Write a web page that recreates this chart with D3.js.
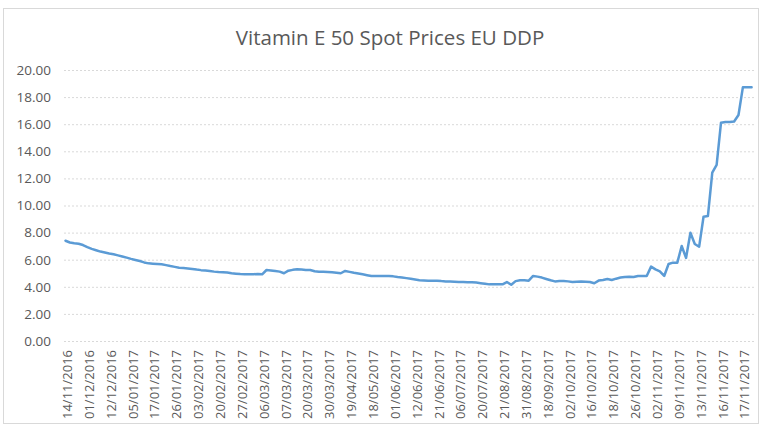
<!DOCTYPE html>
<html>
<head>
<meta charset="utf-8">
<script src="https://cdn.jsdelivr.net/npm/d3@7"></script>
<style>
  body { margin: 0; background: #fff; }
  svg { display: block; font-family: "Open Sans", "Noto Sans", sans-serif; }
</style>
</head>
<body>
<div id="chart"></div>
<script>
// Category labels shown on the x axis (one every 5 data points)
const tickLabels = [
	"14/11/2016", "01/12/2016", "12/12/2016", "05/01/2017", "17/01/2017", "26/01/2017",
	"03/02/2017", "20/02/2017", "27/02/2017", "06/03/2017", "07/03/2017", "20/03/2017",
	"30/03/2017", "19/04/2017", "18/05/2017", "01/06/2017", "12/06/2017", "21/06/2017",
	"06/07/2017", "20/07/2017", "21/08/2017", "31/08/2017", "18/09/2017", "02/10/2017",
	"16/10/2017", "18/10/2017", "26/10/2017", "02/11/2017", "09/11/2017", "13/11/2017",
	"16/11/2017", "17/11/2017"
];
const labelEvery = 5;

// Spot price per data point (EUR/kg)
const prices = [
	7.40, 7.27, 7.22, 7.18, 7.08, 6.93, 6.80, 6.70, 6.60, 6.53,
	6.46, 6.40, 6.32, 6.24, 6.15, 6.06, 5.98, 5.90, 5.80, 5.73,
	5.71, 5.69, 5.66, 5.60, 5.53, 5.47, 5.41, 5.38, 5.35, 5.32,
	5.27, 5.23, 5.20, 5.17, 5.12, 5.09, 5.08, 5.05, 5.00, 4.97,
	4.94, 4.93, 4.92, 4.93, 4.94, 4.92, 5.24, 5.21, 5.17, 5.12,
	5.00, 5.19, 5.25, 5.29, 5.28, 5.24, 5.24, 5.15, 5.11, 5.11,
	5.10, 5.07, 5.04, 5.00, 5.17, 5.10, 5.03, 4.98, 4.92, 4.86,
	4.80, 4.80, 4.80, 4.80, 4.80, 4.77, 4.72, 4.68, 4.64, 4.59,
	4.54, 4.49, 4.47, 4.45, 4.45, 4.45, 4.42, 4.40, 4.39, 4.38,
	4.36, 4.35, 4.34, 4.33, 4.31, 4.27, 4.23, 4.18, 4.18, 4.18,
	4.18, 4.35, 4.15, 4.42, 4.48, 4.48, 4.45, 4.80, 4.75, 4.68,
	4.58, 4.48, 4.40, 4.42, 4.43, 4.40, 4.36, 4.38, 4.40, 4.38,
	4.35, 4.26, 4.46, 4.50, 4.58, 4.50, 4.60, 4.68, 4.73, 4.75,
	4.72, 4.80, 4.80, 4.80, 5.49, 5.29, 5.14, 4.80, 5.68, 5.78,
	5.78, 7.01, 6.13, 7.99, 7.16, 6.96, 9.17, 9.22, 12.42, 12.99,
	16.11, 16.16, 16.16, 16.20, 16.68, 18.72, 18.72, 18.72
];

const yTicks = [0, 2, 4, 6, 8, 10, 12, 14, 16, 18, 20];

const W = 764, H = 430;
const plot = {left: 64, right: 755, top: 70, bottom: 341};

const svg = d3.select("#chart").append("svg")
	.attr("width", W)
	.attr("height", H);

// outer chart border
svg.append("rect")
	.attr("x", 3.5).attr("y", 8.5)
	.attr("width", 755).attr("height", 415)
	.attr("fill", "#fff")
	.attr("stroke", "#d9d9d9");

// title
svg.append("text")
	.attr("x", 390)
	.attr("y", 45)
	.attr("text-anchor", "middle")
	.style("font-size", "20.5px")
	.style("fill", "#595959")
	.text("Vitamin E 50 Spot Prices EU DDP");

// scales
const x = d3.scalePoint()
	.domain(d3.range(prices.length))
	.range([65.5, 751.6]);

const y = d3.scaleLinear()
	.domain([0, 20])
	.range([plot.bottom, plot.top]);

// gridlines
svg.append("g")
	.selectAll("line")
	.data(yTicks)
	.join("line")
	.attr("x1", plot.left)
	.attr("x2", plot.right)
	.attr("y1", d => y(d) + 0.5)
	.attr("y2", d => y(d) + 0.5)
	.attr("stroke", "#d9d9d9")
	.attr("stroke-dasharray", "2,2");

// y axis labels
const yAxis = svg.append("g")
	.attr("transform", `translate(${plot.left - 13},0)`)
	.call(d3.axisLeft(y).tickValues(yTicks).tickFormat(d3.format(".2f")).tickSize(0));
yAxis.select(".domain").remove();
yAxis.selectAll("text")
	.attr("x", 0)
	.style("font-size", "13.5px")
	.style("font-family", "'Open Sans', 'Noto Sans', sans-serif")
	.style("fill", "#595959");

// x axis labels
const xAxis = svg.append("g")
	.attr("transform", `translate(0,${plot.bottom})`)
	.call(d3.axisBottom(x)
		.tickValues(d3.range(0, prices.length, labelEvery).slice(0, tickLabels.length))
		.tickFormat(i => tickLabels[i / labelEvery])
		.tickSize(0));
xAxis.select(".domain").remove();
xAxis.selectAll("text")
	.attr("transform", "rotate(-90)")
	.attr("x", -9)
	.attr("y", 1.5)
	.attr("dy", "0.35em")
	.style("text-anchor", "end")
	.style("font-size", "13px")
	.style("font-family", "'Open Sans', 'Noto Sans', sans-serif")
	.style("fill", "#595959");

// price line
const line = d3.line()
	.x((d, i) => x(i))
	.y(d => y(d));

svg.append("path")
	.datum(prices)
	.attr("fill", "none")
	.attr("stroke", "#5B9BD5")
	.attr("stroke-width", 2.5)
	.attr("stroke-linejoin", "round")
	.attr("stroke-linecap", "round")
	.attr("d", line);
</script>
</body>
</html>
